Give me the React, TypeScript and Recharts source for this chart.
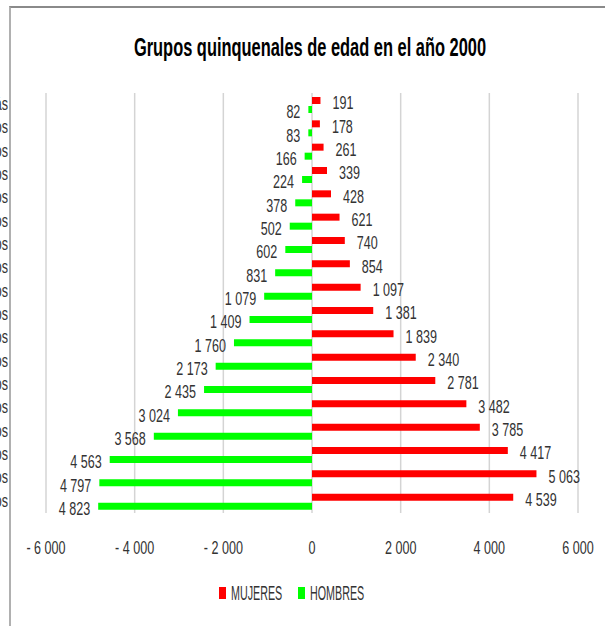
import React from "react"
import { BarChart, Bar, XAxis, YAxis, CartesianGrid, Legend, LabelList } from "recharts"

const categories = [
  "85 y más", "80-84 años", "75-79 años", "70-74 años", "65-69 años", "60-64 años",
  "55-59 años", "50-54 años", "45-49 años", "40-44 años", "35-39 años", "30-34 años",
  "25-29 años", "20-24 años", "15-19 años", "10-14 años", "5-9 años", "0-4 años",
]
const mujeres = [191, 178, 261, 339, 428, 621, 740, 854, 1097, 1381, 1839, 2340, 2781, 3482, 3785, 4417, 5063, 4539]
const hombres = [82, 83, 166, 224, 378, 502, 602, 831, 1079, 1409, 1760, 2173, 2435, 3024, 3568, 4563, 4797, 4823]
const xTicks = [-6000, -4000, -2000, 0, 2000, 4000, 6000]

const data = categories.map((name, i) => ({
  name,
  MUJERES: mujeres[i],
  HOMBRES: -hombres[i],
}))

const FONT = "'Liberation Sans', Arial, sans-serif"
const TEXT = "#333"

// thousands with a space, like the Excel original
const fmt = (v: number) => {
  const s = Math.abs(v).toString().replace(/\B(?=(\d{3})+(?!\d))/g, " ")
  return v < 0 ? "- " + s : s
}

// the original uses a narrow font, so squeeze the text horizontally
const NText = ({ x, y, anchor = "middle", size = 18.5, sx = 0.68, children }: any) => (
  <text
    transform={`translate(${x},${y}) scale(${sx},1)`}
    textAnchor={anchor}
    dominantBaseline="central"
    fontSize={size}
    fontFamily={FONT}
    fill={TEXT}
  >
    {children}
  </text>
)

const renderLabel = (side: "left" | "right") => (props: any) => {
  const { x, y, width, height, value } = props
  const left = Math.min(x, x + width)
  const right = Math.max(x, x + width)
  const cy = y + height / 2 + 2.5
  return side === "right" ? (
    <NText x={right + 12} y={cy} anchor="start">{fmt(Math.abs(value))}</NText>
  ) : (
    <NText x={left - 8} y={cy} anchor="end">{fmt(Math.abs(value))}</NText>
  )
}

const CategoryTick = ({ x, y, payload }: any) => (
  <NText x={x - 30} y={y - 1} anchor="end">{payload.value}</NText>
)

const ValueTick = ({ x, y, payload }: any) => (
  <NText x={x} y={y + 7}>{fmt(payload.value)}</NText>
)

const LegendContent = ({ payload }: any) => (
  <div style={{ display: "flex", justifyContent: "center", alignItems: "center", height: 24, paddingLeft: 6 }}>
    {(payload || []).map((item: any, i: number) => (
      <div key={i} style={{ display: "flex", alignItems: "center", marginRight: i === 0 ? 11 : 0 }}>
        <div style={{ width: 7, height: 12, background: item.color, marginRight: 5 }} />
        <svg width={56} height={24} style={{ display: "block", overflow: "visible" }}>
          <text transform="translate(0,19) scale(0.55,1)" fontSize={19.5} fontFamily={FONT} fill={TEXT}>
            {item.value}
          </text>
        </svg>
      </div>
    ))}
  </div>
)

export default function App() {
  return (
    <div style={{ position: "absolute", left: 0, top: 0, width: 605, height: 626, background: "#fff", overflow: "hidden" }}>
      <div style={{ position: "absolute", left: 9, top: 6, width: 700, height: 700, borderTop: "2px solid #8a8a8a", borderLeft: "2px solid #b0b0b0" }} />
      <svg width={605} height={80} style={{ position: "absolute", left: 0, top: 0 }}>
        <text
          transform="translate(310,56) scale(0.657,1)"
          textAnchor="middle"
          fontSize={25}
          fontWeight="bold"
          fontFamily={FONT}
          fill="#000"
        >
          Grupos quinquenales de edad en el año 2000
        </text>
      </svg>
      <div style={{ position: "absolute", left: 0, top: 0 }}>
        <BarChart
          width={605}
          height={626}
          data={data}
          layout="vertical"
          margin={{ top: 93, right: 27, bottom: 39, left: 0 }}
          barSize={7}
          barGap={2}
        >
          <CartesianGrid horizontal={false} stroke="#d4d4d4" strokeWidth={1.5} />
          <XAxis
            type="number"
            domain={[-6000, 6000]}
            ticks={xTicks}
            axisLine={false}
            tickLine={false}
            tick={<ValueTick />}
            tickMargin={22}
            height={50}
          />
          <YAxis
            type="category"
            dataKey="name"
            width={46}
            axisLine={false}
            tickLine={false}
            tick={<CategoryTick />}
          />
          <Legend
            verticalAlign="bottom"
            itemSorter={null as any}
            content={<LegendContent />}
            wrapperStyle={{ bottom: 21 }}
          />
          <Bar dataKey="MUJERES" fill="#ff0000" isAnimationActive={false}>
            <LabelList dataKey="MUJERES" content={renderLabel("right")} />
          </Bar>
          <Bar dataKey="HOMBRES" fill="#00ff00" isAnimationActive={false}>
            <LabelList dataKey="HOMBRES" content={renderLabel("left")} />
          </Bar>
        </BarChart>
      </div>
    </div>
  )
}
